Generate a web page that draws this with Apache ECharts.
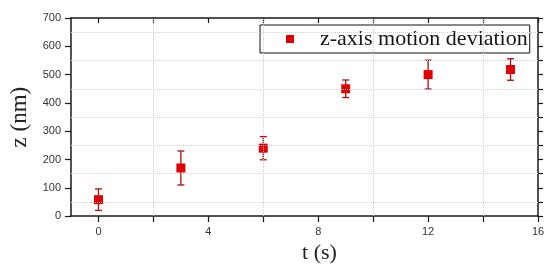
<!DOCTYPE html>
<html>
<head>
<meta charset="utf-8">
<script src="https://cdn.jsdelivr.net/npm/echarts@6/dist/echarts.min.js"></script>
<style>
  html, body { margin: 0; padding: 0; background: #fff; }
  #chart { width: 550px; height: 269px; }
</style>
</head>
<body>
<div id="chart"></div>
<script>
// measured points: time (s), z deviation (nm), error half-width (nm)
const times = [0, 3, 6, 9, 12, 15]
const zValues = [58, 170, 240, 450, 500, 518]
const zErrors = [38, 60, 41, 31, 51, 38]

const xTickValues = [0, 2, 4, 6, 8, 10, 12, 14, 16]
const xLabelValues = [0, 4, 8, 12, 16]
const xGridValues = [2, 6, 10, 14]
const yGridValues = [50, 150, 250, 350, 450, 550, 650]

const seriesName = 'z-axis motion deviation'

const chart = echarts.init(document.getElementById('chart'))

const axisLine = { show: true, onZero: false, lineStyle: { color: '#1a1a1a', width: 1.5 } }
const tickStyle = { color: '#1a1a1a', width: 1.2 }
const gridStyle = { color: '#d0d0d0', type: 'dotted', width: 1 }

const points = times.map((t, i) => [t, zValues[i]])
const bars = times.map((t, i) => [t, zValues[i] - zErrors[i], zValues[i] + zErrors[i]])

chart.setOption({
  animation: false,
  grid: { left: 69, right: 12, top: 18, bottom: 49 },
  legend: {
    data: [{ name: seriesName, icon: 'rect' }],
    left: 260,
    top: 25,
    itemWidth: 8,
    itemHeight: 8,
    padding: [3, 2, 3, 26],
    borderColor: '#111',
    borderWidth: 1,
    backgroundColor: '#fff',
    selectedMode: false,
    textStyle: {
      fontFamily: 'Liberation Serif',
      fontSize: 22,
      lineHeight: 20,
      color: '#151515',
      padding: [0, 0, 0, 21]
    }
  },
  xAxis: [
    {
      type: 'value',
      min: -1,
      max: 16,
      name: 't (s)',
      nameLocation: 'middle',
      nameGap: 21,
      nameTextStyle: {
        fontFamily: 'Liberation Serif',
        fontSize: 22,
        color: '#222',
        padding: [0, 0, 0, 30]
      },
      axisLine: axisLine,
      axisTick: { customValues: xTickValues, length: 6, lineStyle: tickStyle },
      axisLabel: {
        customValues: xLabelValues,
        fontFamily: 'Liberation Sans',
        fontSize: 11,
        color: '#333',
        margin: 10
      },
      splitLine: { show: false }
    },
    {
      type: 'value',
      position: 'top',
      min: -1,
      max: 16,
      axisLine: axisLine,
      axisTick: { customValues: xTickValues, inside: true, length: 5, lineStyle: tickStyle },
      axisLabel: { show: false },
      splitLine: { show: false }
    }
  ],
  yAxis: [
    {
      type: 'value',
      min: 0,
      max: 700,
      interval: 100,
      name: 'z (nm)',
      nameLocation: 'middle',
      nameGap: 40,
      nameTextStyle: {
        fontFamily: 'Liberation Serif',
        fontSize: 23,
        color: '#222'
      },
      axisLine: axisLine,
      axisTick: { show: true, length: 6, lineStyle: tickStyle },
      axisLabel: {
        fontFamily: 'Liberation Sans',
        fontSize: 11,
        color: '#333',
        margin: 10
      },
      splitLine: { show: false }
    },
    {
      type: 'value',
      position: 'right',
      min: 0,
      max: 700,
      interval: 50,
      axisLine: axisLine,
      axisTick: { show: true, length: 5, lineStyle: tickStyle },
      axisLabel: { show: false },
      splitLine: { show: false }
    }
  ],
  series: [
    {
      name: 'grid',
      type: 'line',
      data: [],
      silent: true,
      z: 0,
      markLine: {
        silent: true,
        symbol: 'none',
        label: { show: false },
        lineStyle: gridStyle,
        data: [
          ...xGridValues.map(v => ({ xAxis: v })),
          ...yGridValues.map(v => ({ yAxis: v }))
        ]
      }
    },
    {
      name: 'error',
      type: 'custom',
      z: 2,
      data: bars,
      renderItem: (params, api) => {
        const lo = api.coord([api.value(0), api.value(1)])
        const hi = api.coord([api.value(0), api.value(2)])
        const cap = 3.5
        const style = { stroke: '#a80e0e', lineWidth: 1.3 }
        return {
          type: 'group',
          children: [
            { type: 'line', shape: { x1: lo[0], y1: lo[1], x2: hi[0], y2: hi[1] }, style },
            { type: 'line', shape: { x1: hi[0] - cap, y1: hi[1], x2: hi[0] + cap, y2: hi[1] }, style },
            { type: 'line', shape: { x1: lo[0] - cap, y1: lo[1], x2: lo[0] + cap, y2: lo[1] }, style }
          ]
        }
      }
    },
    {
      name: seriesName,
      type: 'scatter',
      z: 3,
      symbol: 'rect',
      symbolSize: 9,
      itemStyle: { color: '#e00000', opacity: 1 },
      data: points
    }
  ]
})
</script>
</body>
</html>
